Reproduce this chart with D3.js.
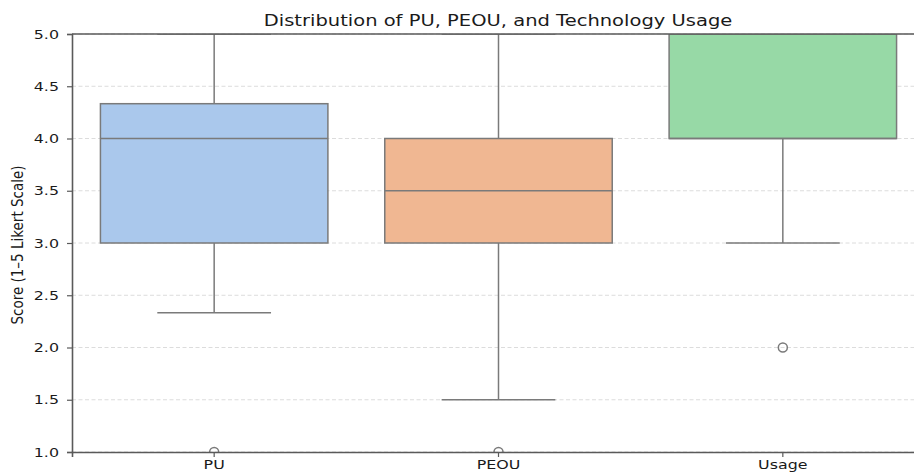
<!DOCTYPE html>
<html>
<head>
<meta charset="utf-8">
<script src="https://cdn.jsdelivr.net/npm/d3@7"></script>
<style>
  body { margin: 0; background: #fff; }
  svg { display: block; font-family: "DejaVu Sans", sans-serif; }
</style>
</head>
<body>
<div id="chart"></div>
<script>
// Box plot summary per construct
const categories = ["PU", "PEOU", "Usage"];
const whiskerLow = [2.333, 1.5, 3.0];
const q1 = [3.0, 3.0, 4.0];
const median = [4.0, 3.5, 4.0];
const q3 = [4.333, 4.0, 5.0];
const whiskerHigh = [5.0, 5.0, 5.0];
const outliers = [[1.0], [1.0], [2.0]];
const fills = ["#aac8ec", "#f0b792", "#97d9a6"];
const yTicks = [1.0, 1.5, 2.0, 2.5, 3.0, 3.5, 4.0, 4.5, 5.0];

const width = 914;
const height = 476;
const margin = { top: 34, right: -11, bottom: 24, left: 72 };
// the reference text looks stretched sideways
const stretch = 1.22;

const svg = d3.select("#chart")
  .append("svg")
  .attr("width", width)
  .attr("height", height);

const x = d3.scaleBand()
  .domain(categories)
  .range([margin.left, width - margin.right])
  .paddingInner(0)
  .paddingOuter(0);

const y = d3.scaleLinear()
  .domain([1, 5])
  .range([height - margin.bottom, margin.top]);

const lineColor = "#7a7a7a";
const boxW = x.bandwidth() * 0.8;
const capW = boxW * 0.5;

svg.append("defs").append("clipPath").attr("id", "plot-clip")
  .append("rect")
  .attr("x", margin.left)
  .attr("y", margin.top)
  .attr("width", width - margin.right - margin.left)
  .attr("height", height - margin.bottom - margin.top);

// grid lines
svg.append("g")
  .selectAll("line")
  .data(yTicks)
  .join("line")
  .attr("x1", margin.left)
  .attr("x2", width)
  .attr("y1", d => y(d))
  .attr("y2", d => y(d))
  .attr("stroke", "#dcdcdc")
  .attr("stroke-width", 1)
  .attr("stroke-dasharray", "4,2.5");

const plot = svg.append("g").attr("clip-path", "url(#plot-clip)");

const rows = categories.map((c, i) => ({
  c, i, lo: whiskerLow[i], q1: q1[i], med: median[i], q3: q3[i], hi: whiskerHigh[i], out: outliers[i]
}));

const cx = d => x(d.c) + x.bandwidth() / 2;

// whiskers
plot.selectAll("line.whisker-low")
  .data(rows)
  .join("line")
  .attr("x1", cx).attr("x2", cx)
  .attr("y1", d => y(d.q1)).attr("y2", d => y(d.lo))
  .attr("stroke", lineColor).attr("stroke-width", 1.5);

plot.selectAll("line.whisker-high")
  .data(rows)
  .join("line")
  .attr("x1", cx).attr("x2", cx)
  .attr("y1", d => y(d.q3)).attr("y2", d => y(d.hi))
  .attr("stroke", lineColor).attr("stroke-width", 1.5);

// caps
plot.selectAll("line.cap-low")
  .data(rows)
  .join("line")
  .attr("x1", d => cx(d) - capW / 2).attr("x2", d => cx(d) + capW / 2)
  .attr("y1", d => y(d.lo)).attr("y2", d => y(d.lo))
  .attr("stroke", lineColor).attr("stroke-width", 1.5);

plot.selectAll("line.cap-high")
  .data(rows)
  .join("line")
  .attr("x1", d => cx(d) - capW / 2).attr("x2", d => cx(d) + capW / 2)
  .attr("y1", d => y(d.hi)).attr("y2", d => y(d.hi))
  .attr("stroke", lineColor).attr("stroke-width", 1.5);

// boxes
plot.selectAll("rect.box")
  .data(rows)
  .join("rect")
  .attr("x", d => cx(d) - boxW / 2)
  .attr("width", boxW)
  .attr("y", d => y(d.q3))
  .attr("height", d => y(d.q1) - y(d.q3))
  .attr("fill", (d, i) => fills[i])
  .attr("stroke", lineColor)
  .attr("stroke-width", 1.5);

// medians
plot.selectAll("line.median")
  .data(rows)
  .join("line")
  .attr("x1", d => cx(d) - boxW / 2).attr("x2", d => cx(d) + boxW / 2)
  .attr("y1", d => y(d.med)).attr("y2", d => y(d.med))
  .attr("stroke", lineColor).attr("stroke-width", 1.5);

// outliers
plot.selectAll("circle.outlier")
  .data(rows.flatMap(d => d.out.map(v => ({ c: d.c, v }))))
  .join("circle")
  .attr("cx", cx)
  .attr("cy", d => y(d.v))
  .attr("r", 4.5)
  .attr("fill", "none")
  .attr("stroke", lineColor)
  .attr("stroke-width", 1.5);

// axes
const yAxis = svg.append("g")
  .attr("transform", `translate(${margin.left},0)`)
  .call(d3.axisLeft(y).tickValues(yTicks).tickFormat(d3.format(".1f")).tickSize(5).tickPadding(8));

const xAxis = svg.append("g")
  .attr("transform", `translate(0,${height - margin.bottom})`)
  .call(d3.axisBottom(x).tickSize(5).tickPadding(3));

[yAxis, xAxis].forEach(g => {
  g.select(".domain").attr("stroke", "#5a5a5a").attr("stroke-width", 1.6);
  g.selectAll(".tick line").attr("stroke", "#5a5a5a").attr("stroke-width", 1.2);
  g.selectAll("text").attr("fill", "#1a1a1a").style("font-size", "13px").style("font-family", "DejaVu Sans");
});

// widen the tick labels around their anchor
yAxis.selectAll(".tick text")
  .attr("transform", function () {
    const tx = +d3.select(this).attr("x");
    return `translate(${tx},0) scale(${stretch},1)`;
  })
  .attr("x", 0);
xAxis.selectAll(".tick text")
  .attr("transform", `scale(${stretch},1)`);

// top spine
svg.append("line")
  .attr("x1", margin.left).attr("x2", width)
  .attr("y1", margin.top).attr("y2", margin.top)
  .attr("stroke", "#5a5a5a").attr("stroke-width", 1.6);

// title
svg.append("text")
  .attr("transform", `translate(498,26) scale(${stretch},1)`)
  .attr("text-anchor", "middle")
  .attr("fill", "#1a1a1a")
  .style("font-size", "16px")
  .text("Distribution of PU, PEOU, and Technology Usage");

// y label
svg.append("text")
  .attr("transform", `translate(23,245) scale(${stretch},1) rotate(-90)`)
  .attr("text-anchor", "middle")
  .attr("fill", "#1a1a1a")
  .style("font-size", "13.5px")
  .text("Score (1–5 Likert Scale)");
</script>
</body>
</html>
